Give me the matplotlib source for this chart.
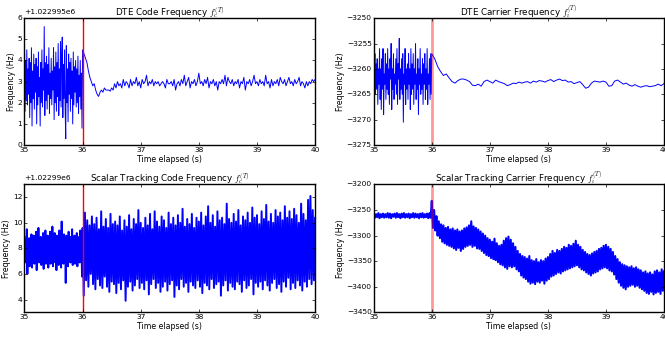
import numpy as np
import matplotlib
matplotlib.use("Agg")
import matplotlib.pyplot as plt

plt.style.use("classic")
plt.rcParams["font.size"] = 5.4
plt.rcParams["axes.titlesize"] = 6.3
plt.rcParams["savefig.facecolor"] = "white"
plt.rcParams["figure.facecolor"] = "white"

# ---- DTE code frequency (offset +1.022995e6 Hz) ----
dte_code_track = [  # 35.00 .. 35.99, step 0.01
    4.8, 1.6, 4.0, 2.1, 4.5, 1.9, 3.6, 2.4, 4.1, 1.3,
    3.9, 2.0, 4.6, 0.9, 3.5, 2.2, 4.3, 1.7, 3.8, 2.5,
    4.1, 1.0, 3.7, 1.9, 4.4, 2.3, 3.2, 0.9, 3.9, 2.0,
    4.5, 1.8, 3.6, 2.6, 5.6, 1.4, 3.9, 2.1, 4.2, 1.7,
    3.8, 2.4, 4.6, 1.5, 3.4, 2.2, 4.1, 1.9, 3.5, 2.6,
    4.6, 1.2, 3.7, 2.0, 4.4, 1.6, 3.9, 2.3, 4.8, 1.4,
    3.6, 2.1, 4.9, 1.8, 4.2, 5.1, 1.3, 3.8, 2.2, 4.5,
    1.7, 0.3, 4.7, 2.0, 3.6, 1.1, 4.3, 2.4, 3.9, 1.6,
    4.1, 2.2, 3.5, 1.0, 4.4, 1.9, 3.7, 2.5, 4.0, 1.8,
    3.6, 2.0, 4.2, 1.5, 3.3, 2.3, 4.0, 1.7, 3.4, 0.8,
]
dte_code_dte = [  # 36.000 .. 40.000, step 0.025
    4.5, 4.3, 4.1, 3.9, 3.5, 3.2, 3.0, 2.8, 2.9, 2.6,
    2.4, 2.3, 2.5, 2.6, 2.5, 2.7, 2.6, 2.6, 2.6, 2.55,
    2.7, 2.6, 2.9, 2.7, 3.0, 2.8, 2.9, 2.7, 3.1, 2.8,
    3.0, 2.9, 2.7, 3.1, 2.8, 3.0, 2.9, 3.2, 2.8, 3.0,
    2.7, 3.1, 2.9, 3.0, 3.3, 2.8, 3.0, 2.9, 3.1, 2.8,
    3.0, 2.9, 3.0, 2.8, 2.9, 3.0, 2.9, 2.7, 3.1, 2.9,
    2.9, 3.0, 2.8, 3.1, 2.6, 2.9, 3.0, 2.8, 3.1, 2.9,
    3.3, 2.8, 3.0, 3.2, 2.7, 3.0, 2.9, 3.1, 2.8, 3.0,
    3.4, 2.9, 3.0, 2.8, 3.1, 2.9, 3.2, 2.7, 3.0, 2.9,
    3.1, 2.8, 3.0, 2.6, 3.0, 2.9, 3.1, 2.9, 3.3, 2.8,
    3.2, 3.0, 2.9, 3.1, 2.8, 3.0, 2.9, 3.1, 2.7, 3.0,
    2.9, 3.2, 2.6, 3.0, 2.9, 3.1, 2.8, 3.0, 3.3, 2.9,
    3.0, 2.8, 3.1, 2.9, 3.0, 2.8, 3.3, 2.9, 3.0, 2.7,
    3.1, 2.8, 3.0, 2.9, 3.1, 2.8, 3.2, 3.0, 2.9, 3.1,
    2.8, 3.0, 3.2, 2.9, 3.0, 2.8, 3.1, 2.9, 3.0, 3.2,
    2.8, 3.0, 2.9, 2.7, 3.0, 2.8, 3.0, 2.9, 3.1, 3.0,
    3.1,
]

# ---- DTE carrier frequency (Hz) ----
dte_carr_track = [  # 35.00 .. 35.99, step 0.01
    -3250.5, -3262, -3257, -3265, -3259, -3264, -3258, -3267, -3260, -3263,
    -3256, -3266, -3260, -3268, -3258, -3264, -3256, -3269, -3261, -3263,
    -3257, -3266, -3259, -3264, -3256, -3265, -3260, -3267, -3258, -3262,
    -3255, -3268, -3260, -3264, -3257, -3266, -3261, -3263, -3258, -3265,
    -3256, -3267, -3259, -3262, -3254, -3266, -3260, -3264, -3258, -3265,
    -3257, -3270.5, -3261, -3263, -3256, -3267, -3260, -3264, -3259, -3266,
    -3257, -3263, -3260, -3268, -3256, -3265, -3259, -3264, -3257, -3267,
    -3260, -3263, -3255, -3266, -3261, -3264, -3258, -3269, -3260, -3263,
    -3256, -3265, -3261, -3264, -3258, -3267, -3259, -3263, -3257, -3266,
    -3260, -3264, -3256, -3267, -3261, -3263, -3258, -3266, -3257, -3265,
]
dte_carr_dte = [  # 36.00 .. 40.00, step 0.05
    -3257, -3258, -3259.5, -3260.5, -3261.3, -3261, -3261.8, -3262.5, -3262.8, -3262.3,
    -3262, -3262, -3262.2, -3262.5, -3263.2, -3263.3, -3263, -3263.4, -3262.5, -3262.2,
    -3262.5, -3262.8, -3262.2, -3262.5, -3262.7, -3262.9, -3263.3, -3263.1, -3262.8, -3262.9,
    -3262.6, -3262.8, -3262.6, -3262.5, -3262.8, -3262.4, -3262.6, -3262.3, -3262.4, -3262.6,
    -3262.3, -3262.1, -3262.5, -3262.2, -3262.0, -3262.3, -3262.2, -3262.6, -3262.5, -3262.9,
    -3262.7, -3262.5, -3263.1, -3263.8, -3263.6, -3262.8, -3262.4, -3262.5, -3262.6, -3262.4,
    -3262.6, -3263.4, -3263.3, -3262.4, -3262.2, -3262.6, -3263.0, -3262.8, -3263.2, -3263.4,
    -3263.1, -3263.4, -3263.6, -3263.4, -3263.3, -3263.5, -3263.4, -3263.3, -3263.0, -3263.3,
    -3262.9,
]

# ---- Scalar tracking code frequency (offset +1.02299e6 Hz) ----
sc_code_a = [  # 35.00 .. 35.99, step 0.01
    8.9, 6.9, 8.6, 7.2, 9.5, 6.0, 8.4, 7.0, 8.8, 6.6,
    8.3, 7.3, 9.1, 6.5, 8.7, 7.1, 9.0, 6.8, 8.5, 7.4,
    9.3, 6.3, 8.6, 7.0, 9.6, 6.9, 8.4, 7.2, 8.9, 6.7,
    8.7, 7.0, 9.2, 6.4, 8.5, 7.3, 9.4, 6.8, 8.6, 7.1,
    9.0, 6.5, 8.8, 7.2, 9.3, 6.8, 8.3, 7.0, 9.7, 6.6,
    8.7, 7.1, 9.2, 6.9, 8.5, 6.3, 9.0, 7.2, 8.8, 6.7,
    9.4, 7.0, 8.6, 6.5, 10.1, 7.1, 8.7, 6.8, 9.1, 7.3,
    8.4, 5.3, 9.0, 7.0, 8.7, 6.6, 9.3, 7.2, 8.5, 6.9,
    8.9, 7.0, 9.5, 6.7, 8.4, 7.2, 9.0, 6.8, 8.6, 7.1,
    9.2, 6.6, 8.7, 7.3, 8.9, 6.9, 9.4, 7.0, 8.8, 5.8,
]
sc_code_b = [  # 36.00 .. 40.00, step 0.02
    9.6, 4.3, 10.8, 5.5, 10.2, 5.0, 9.8, 6.0, 10.5, 5.2,
    9.9, 4.8, 10.4, 5.6, 9.5, 5.1, 10.9, 4.9, 9.7, 5.8,
    10.3, 5.0, 9.6, 4.6, 10.7, 5.4, 9.9, 5.2, 10.1, 4.5,
    9.8, 5.3, 10.5, 4.8, 9.4, 5.5, 10.2, 3.9, 9.7, 5.0,
    10.6, 5.4, 9.5, 4.7, 10.3, 5.1, 9.9, 5.6, 11.0, 4.9,
    10.0, 5.3, 9.6, 4.8, 10.4, 5.5, 9.8, 4.4, 10.7, 5.2,
    9.5, 5.6, 10.9, 4.9, 10.1, 5.3, 9.7, 4.6, 10.5, 5.0,
    10.2, 5.4, 9.6, 4.7, 10.8, 5.2, 9.9, 5.5, 10.4, 4.2,
    9.8, 5.1, 10.6, 4.8, 10.0, 5.6, 11.1, 5.0, 9.7, 5.3,
    10.3, 4.6, 9.9, 5.4, 10.7, 5.1, 9.6, 4.9, 10.4, 5.5,
    10.1, 5.0, 10.8, 4.5, 9.8, 5.3, 10.5, 5.1, 11.3, 4.8,
    10.0, 5.6, 10.6, 4.9, 9.7, 5.2, 10.9, 5.4, 10.2, 4.3,
    10.4, 5.1, 9.9, 5.5, 11.5, 4.7, 10.3, 5.3, 10.0, 5.0,
    10.7, 4.8, 10.1, 5.4, 11.0, 5.2, 9.8, 4.6, 10.5, 5.5,
    10.2, 4.9, 10.8, 5.1, 10.0, 5.6, 11.2, 4.4, 10.4, 5.3,
    10.6, 5.0, 9.9, 5.4, 10.9, 4.8, 10.3, 5.5, 11.4, 5.1,
    10.1, 4.7, 10.7, 5.3, 10.0, 5.6, 11.0, 4.9, 10.5, 5.2,
    10.8, 4.6, 10.2, 5.4, 11.3, 5.0, 10.4, 5.7, 10.9, 4.8,
    10.3, 5.3, 11.1, 4.9, 10.6, 5.5, 10.0, 5.1, 11.5, 4.7,
    10.7, 5.4, 10.2, 5.0, 11.8, 5.6, 12.1, 5.2, 11.0, 5.5,
    10.4,
]

# ---- Scalar tracking carrier frequency (Hz) ----
sc_carr_a = [  # 35.00 .. 35.98, step 0.02
    -3257, -3265, -3258, -3264, -3256, -3266, -3258, -3264, -3257, -3265,
    -3258, -3264, -3256, -3265, -3257, -3266, -3258, -3263, -3257, -3265,
    -3256, -3264, -3258, -3266, -3257, -3264, -3256, -3265, -3258, -3264,
    -3257, -3266, -3258, -3264, -3256, -3265, -3257, -3264, -3258, -3266,
    -3257, -3264, -3256, -3265, -3258, -3264, -3257, -3266, -3256, -3265,
]
sc_carr_b = [  # 36.00 .. 40.00, step 0.02
    -3232, -3285, -3250, -3290, -3262, -3300, -3272, -3305, -3278, -3312,
    -3280, -3315, -3285, -3318, -3283, -3320, -3288, -3322, -3286, -3325,
    -3290, -3328, -3288, -3324, -3292, -3330, -3290, -3326, -3286, -3322,
    -3284, -3320, -3280, -3318, -3272, -3322, -3282, -3320, -3285, -3325,
    -3288, -3326, -3292, -3330, -3296, -3334, -3300, -3338, -3305, -3340,
    -3308, -3344, -3312, -3346, -3306, -3348, -3315, -3352, -3320, -3356,
    -3318, -3358, -3310, -3362, -3305, -3365, -3302, -3360, -3308, -3362,
    -3315, -3360, -3322, -3366, -3330, -3370, -3336, -3378, -3340, -3382,
    -3342, -3385, -3345, -3390, -3340, -3394, -3348, -3392, -3350, -3395,
    -3346, -3390, -3352, -3392, -3348, -3388, -3350, -3394, -3345, -3388,
    -3342, -3385, -3336, -3380, -3330, -3378, -3334, -3375, -3328, -3372,
    -3330, -3374, -3326, -3370, -3322, -3368, -3324, -3366, -3318, -3364,
    -3320, -3362, -3316, -3360, -3310, -3358, -3318, -3362, -3322, -3366,
    -3328, -3368, -3332, -3372, -3336, -3375, -3338, -3378, -3335, -3374,
    -3332, -3372, -3330, -3370, -3326, -3366, -3324, -3364, -3320, -3362,
    -3318, -3364, -3322, -3368, -3326, -3370, -3332, -3376, -3340, -3385,
    -3346, -3392, -3352, -3398, -3356, -3402, -3358, -3405, -3360, -3400,
    -3362, -3398, -3360, -3396, -3364, -3400, -3362, -3398, -3366, -3402,
    -3368, -3405, -3372, -3408, -3370, -3412, -3374, -3414, -3372, -3410,
    -3376, -3415, -3370, -3412, -3368, -3410, -3372, -3414, -3366, -3408,
    -3370,
]

switch_time = 36.0


def sample_times(start, step, n):
    return start + step * np.arange(n)


# title, track part, its step, later part, its step, offset, y range,
# trace width, red-line alpha/width
panels = [
    ("DTE Code Frequency $f_c^{(T)}$",
     dte_code_track, 0.01, dte_code_dte, 0.025, 1022995.0, (0, 6), 0.7, 1.0, 1.0),
    ("DTE Carrier Frequency $f_i^{(T)}$",
     dte_carr_track, 0.01, dte_carr_dte, 0.05, 0.0, (-3275, -3250), 0.7, 0.4, 2.0),
    ("Scalar Tracking Code Frequency $f_c^{(T)}$",
     sc_code_a, 0.01, sc_code_b, 0.02, 1022990.0, (3, 13), 1.4, 1.0, 1.0),
    ("Scalar Tracking Carrier Frequency $f_i^{(T)}$",
     sc_carr_a, 0.02, sc_carr_b, 0.02, 0.0, (-3450, -3200), 1.5, 0.4, 2.0),
]

rects = [
    [0.0368, 0.572, 0.437, 0.3746],
    [0.562, 0.572, 0.4365, 0.3746],
    [0.0368, 0.0788, 0.437, 0.377],
    [0.562, 0.0788, 0.4365, 0.377],
]

fig = plt.figure(figsize=(6.65, 3.39), dpi=100)

for rect, (title, ya, da, yb, db, base, ylim, lw, valpha, vlw) in zip(rects, panels):
    ax = fig.add_axes(rect)
    t = np.concatenate([sample_times(35.0, da, len(ya)), sample_times(36.0, db, len(yb))])
    y = np.concatenate([ya, yb]) + base
    ax.plot(t, y, color="b", lw=lw)
    ax.axvline(switch_time, color="r", alpha=valpha, lw=vlw)
    ax.set_xlim(35, 40)
    ax.set_ylim(ylim[0] + base, ylim[1] + base)
    if base:
        ax.ticklabel_format(axis="y", useOffset=base)
    else:
        ax.ticklabel_format(axis="y", useOffset=False)
    ax.set_title(title, pad=2)
    ax.set_xlabel("Time elapsed (s)", labelpad=1, fontsize=5.6)
    ax.set_ylabel("Frequency (Hz)", labelpad=1, fontsize=5.6)
    ax.tick_params(labelsize=5.4, length=2.5, pad=1.5)
    ax.yaxis.get_offset_text().set_fontsize(5.4)

fig.savefig("out.png", dpi=100)
